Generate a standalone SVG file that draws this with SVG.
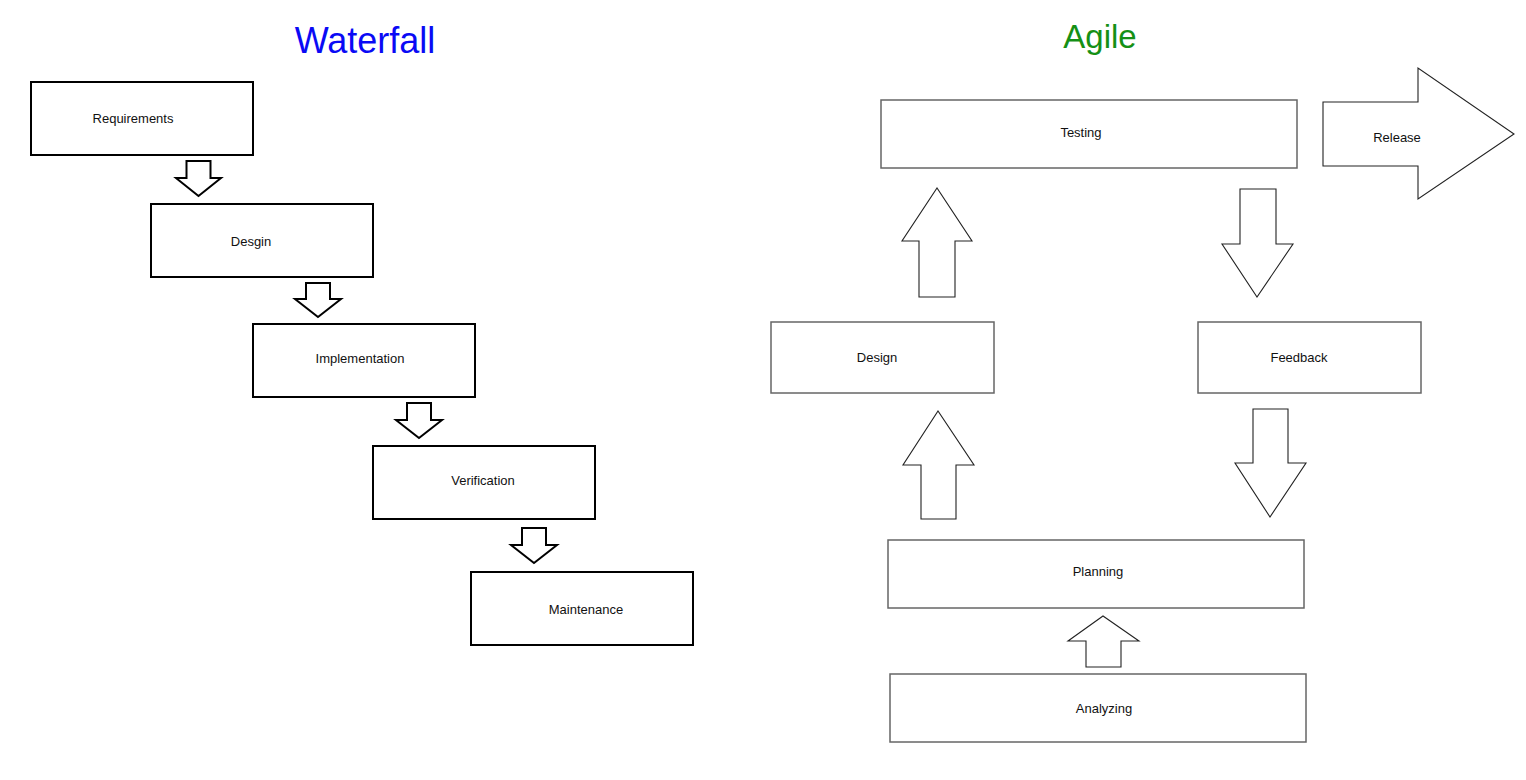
<svg xmlns="http://www.w3.org/2000/svg" width="1526" height="780" viewBox="0 0 1526 780">
<style>
  .wf rect { fill: #fff; stroke: #000; stroke-width: 2; }
  .ag rect { fill: #fff; stroke: #666; stroke-width: 1.5; }
  .lbl { font-family: "Liberation Sans", Arial, sans-serif; font-size: 13px; fill: #111; text-anchor: middle; }
  .warr { fill: #fff; stroke: #000; stroke-width: 2; stroke-linejoin: miter; }
  .aarr { fill: #fff; stroke: #222; stroke-width: 1.1; stroke-linejoin: miter; }
  .title { font-family: "Liberation Sans", Arial, sans-serif; text-anchor: middle; }
</style>
<rect width="1526" height="780" fill="#fff"/>
<text class="title" x="365" y="53" font-size="36" fill="#0a0af5">Waterfall</text>
<text class="title" x="1100" y="48" font-size="33" fill="#159015">Agile</text>

<g id="wf-requirements" class="wf"><rect x="31" y="82" width="222" height="73"/><text class="lbl" x="133" y="123">Requirements</text></g>
<g id="wf-design" class="wf"><rect x="151" y="204" width="222" height="73"/><text class="lbl" x="251" y="246">Desgin</text></g>
<g id="wf-implementation" class="wf"><rect x="253" y="324" width="222" height="73"/><text class="lbl" x="360" y="363">Implementation</text></g>
<g id="wf-verification" class="wf"><rect x="373" y="446" width="222" height="73"/><text class="lbl" x="483" y="485">Verification</text></g>
<g id="wf-maintenance" class="wf"><rect x="471" y="572" width="222" height="73"/><text class="lbl" x="586" y="614">Maintenance</text></g>

<g id="ag-testing" class="ag"><rect x="881" y="100" width="416" height="68"/><text class="lbl" x="1081" y="137">Testing</text></g>
<g id="ag-release"><polygon class="aarr" points="1323,102 1418,102 1418,68 1514,134 1418,199 1418,166 1323,166"/><text class="lbl" x="1397" y="142">Release</text></g>
<g id="ag-design" class="ag"><rect x="771" y="322" width="223" height="71"/><text class="lbl" x="877" y="362">Design</text></g>
<g id="ag-feedback" class="ag"><rect x="1198" y="322" width="223" height="71"/><text class="lbl" x="1299" y="362">Feedback</text></g>
<g id="ag-planning" class="ag"><rect x="888" y="540" width="416" height="68"/><text class="lbl" x="1098" y="576">Planning</text></g>
<g id="ag-analyzing" class="ag"><rect x="890" y="674" width="416" height="68"/><text class="lbl" x="1104" y="713">Analyzing</text></g>

<g id="connectors">
  <polygon class="warr" points="186.5,161 210.5,161 210.5,178 221,178 198.5,196 176,178 186.5,178"/>
  <polygon class="warr" points="306,283 330,283 330,299 341,299 318,317 295,299 306,299"/>
  <polygon class="warr" points="407,403 431,403 431,420 442,420 419,438 396,420 407,420"/>
  <polygon class="warr" points="522,528 546,528 546,545 557,545 534,563 511,545 522,545"/>

  <polygon class="aarr" points="919,297 955,297 955,241 972,241 937,188 902,241 919,241"/>
  <polygon class="aarr" points="1240,189 1276,189 1276,244 1293,244 1257,297 1222,244 1240,244"/>
  <polygon class="aarr" points="921,519 956,519 956,465 974,465 938,411 903,465 921,465"/>
  <polygon class="aarr" points="1253,409 1288,409 1288,463 1306,463 1270,517 1235,463 1253,463"/>
  <polygon class="aarr" points="1086,667 1121,667 1121,641 1139,641 1103,616 1068,641 1086,641"/>
</g>
</svg>
